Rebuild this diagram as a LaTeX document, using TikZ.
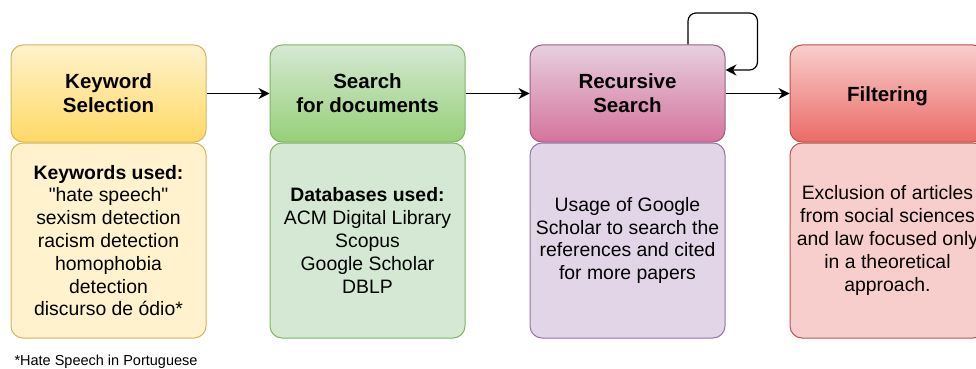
\documentclass[tikz,border=0pt]{standalone}
\usepackage{fontspec}
\setmainfont{Liberation Sans}
\usetikzlibrary{arrows.meta,calc}
\definecolor{ylwA}{HTML}{FFF2CC}\definecolor{ylwB}{HTML}{FFD966}\definecolor{ylwL}{HTML}{D6B656}
\definecolor{grnA}{HTML}{D5E8D4}\definecolor{grnB}{HTML}{97D077}\definecolor{grnL}{HTML}{82B366}
\definecolor{pnkA}{HTML}{E6D0DE}\definecolor{pnkB}{HTML}{D5739D}\definecolor{pnkL}{HTML}{996185}
\definecolor{vioA}{HTML}{E1D5E7}\definecolor{vioL}{HTML}{9673A6}
\definecolor{redA}{HTML}{F8CECC}\definecolor{redB}{HTML}{EA6B66}\definecolor{redL}{HTML}{B85450}

\begin{document}
\begin{tikzpicture}[x=1pt,y=-1pt,line width=1pt,
    box/.style={rectangle,rounded corners=12pt,minimum width=195pt,inner sep=0pt,align=center},
    head/.style={box,minimum height=97pt,font=\fontsize{20.5}{24}\selectfont\bfseries},
    body/.style={box,minimum height=195pt,font=\fontsize{19.4}{22.8}\selectfont},
    flow/.style={-{Stealth[length=11pt,width=11pt]},line width=1.2pt}]
    \useasboundingbox (0,0) rectangle (976,369);
    % top row
    \node [head,draw=ylwL,top color=ylwA,bottom color=ylwB] (KeyT) at (108.5, 93.5) {Keyword\\Selection};%
    \node [head,draw=grnL,top color=grnA,bottom color=grnB] (SrcT) at (367.5, 93.5) {Search\\for documents};%
    \node [head,draw=pnkL,top color=pnkA,bottom color=pnkB] (RecT) at (627.5, 93.5) {Recursive\\Search};%
    \node [head,draw=redL,top color=redA,bottom color=redB] (FilT) at (887.5, 93.5) {\raisebox{-3pt}[\height][\depth]{Filtering}};%
    % bottom row
    \node [body,draw=ylwL,fill=ylwA] (KeyB) at (108.5, 240.5) {\textbf{Keywords used:}\\\textquotedbl hate speech\textquotedbl\\sexism detection\\racism detection\\homophobia\\detection\\discurso de ódio*};%
    \node [body,draw=grnL,fill=grnA] (SrcB) at (367.5, 240.5) {\textbf{Databases used:}\\ACM Digital Library\\Scopus\\Google Scholar\\DBLP};%
    \node [body,draw=vioL,fill=vioA] (RecB) at (627.5, 240.5) {Usage of Google\\Scholar to search the\\references and cited\\for more papers};%
    \node [body,draw=redL,fill=redA] (FilB) at (887.5, 240.5) {Exclusion of articles\\from social sciences\\and law focused only\\in a theoretical\\approach.};%
    % arrows
    \draw[flow] (KeyT) to (SrcT);
    \draw[flow] (SrcT) to (RecT);
    \draw[flow] (RecT) to (FilT);
    \coordinate (loop) at (757.5, 13);
    \draw[flow,rounded corners=8pt] ([xshift=60.5pt]RecT.north) |- (loop) |- ([yshift=23.5pt]RecT.east);
    \node [anchor=west,inner sep=0pt,font=\fontsize{14.5}{17}\selectfont] (note) at (14, 362) {*Hate Speech in Portuguese};%
\end{tikzpicture}
\end{document}
